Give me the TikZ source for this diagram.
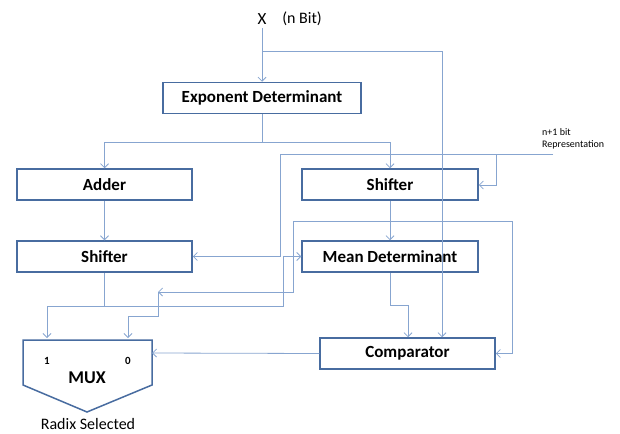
\documentclass[tikz,border=0pt]{standalone}
\usepackage{fontspec}
\setmainfont{Carlito}
\usetikzlibrary{arrows.meta}
\definecolor{boxc}{RGB}{72,108,160}
\definecolor{linec}{RGB}{135,165,208}
\tikzset{
  blk/.style={draw=boxc, line width=1.5pt, fill=white, minimum height=31pt, inner sep=0pt,
    font=\fontsize{17}{20}\selectfont\bfseries},
  conn/.style={draw=linec, line width=0.8pt},
  arr/.style={conn, -{Straight Barb[length=4pt,width=8pt]}},
  lbl/.style={inner sep=0pt}
}
\begin{document}
\begin{tikzpicture}[x=1pt,y=-1pt]
\useasboundingbox (0,0) rectangle (620,433);
% blocks
\node[blk, minimum width=198pt] (expdet) at (262,98) {Exponent Determinant};
\node[blk, minimum width=175pt] (adder) at (104.5,184.5) {Adder};
\node[blk, minimum width=175pt] (shiftL) at (104.5,256.5) {Shifter};
\node[blk, minimum width=176pt] (shiftR) at (390,184.5) {Shifter};
\node[blk, minimum width=176pt] (mean) at (390,256.5) {Mean Determinant};
\node[blk, minimum width=175pt] (comp) at (407.5,353.5) {Comparator};
% MUX
\draw[boxc, line width=1.5pt, fill=white] (23,340) -- (152,340) -- (152,385) -- (87,412) -- (23,385) -- cycle;
\coordinate (mux1) at (47,338);
\coordinate (mux0) at (128,338);
\coordinate (muxr) at (152,353);
\node[lbl, font=\fontsize{11}{13}\selectfont\bfseries] (one) at (47,361) {1};
\node[lbl, font=\fontsize{11}{13}\selectfont\bfseries] (zero) at (128,361) {0};
\node[lbl, font=\fontsize{18}{20}\selectfont\bfseries] (muxt) at (87,378) {MUX};
\node[lbl, font=\fontsize{16}{18}\selectfont] (radix) at (88,424) {Radix Selected};
% labels
\node[lbl, font=\fontsize{17}{19}\selectfont] (xlab) at (262,19) {X};
\node[lbl, font=\fontsize{16}{18}\selectfont] (nbit) at (302,19) {(n Bit)};
\node[lbl, font=\fontsize{10}{12}\selectfont, align=left, anchor=west] (nrep) at (542,139) {n+1 bit\\Representation};
% coordinates
\coordinate (xtop) at (262,28);
\coordinate (xb) at (262,51);
\coordinate (xr) at (442,51);
\coordinate (ed) at (262,142);
\coordinate (edl) at (104.5,142);
\coordinate (edr) at (390,142);
\coordinate (nin) at (553,154);
\coordinate (nj) at (496,154);
\coordinate (nl) at (280,154);
\coordinate (srj) at (390,221);
\coordinate (sl1) at (293,221);
\coordinate (sl2) at (293,292);
\coordinate (bend) at (158,292);
\coordinate (sr1) at (512,221);
\coordinate (slj) at (104.5,306);
\coordinate (mj) at (390,305);
% connectors
\draw[conn] (xtop) -- (xb);
\draw[arr] (xb) -- (expdet.north);
\draw[arr] (xb) -- (xr) -- (comp.north -| xr);
\draw[conn] (expdet.south) -- (ed);
\draw[arr] (ed) -- (edl) -- (adder.north);
\draw[arr] (ed) -- (edr) -- (shiftR.north);
\draw[arr] (adder.south) -- (shiftL.north);
\draw[arr] (nin) -- (nl) -- (nl |- shiftL.east) -- (shiftL.east);
\draw[arr] (nj) -- (nj |- 0,185) -- (shiftR.east |- 0,185);
\draw[arr] (shiftR.south) -- (mean.north);
\draw[arr] (srj) -- (sl1) -- (sl2) -- (bend);
\draw[arr] (bend) -- (158,316) -- (128,316) -- (mux0);
\draw[arr] (srj) -- (sr1) -- (sr1 |- comp.east) -- (comp.east);
\draw[conn] (shiftL.south) -- (slj);
\draw[arr] (slj) -- (47,306) -- (mux1);
\draw[arr] (slj) -- (283,306) -- (283,256.5) -- (mean.west);
\draw[arr] (mean.south) -- (mj) -- (408,305) -- (comp.north -| 408,0);
\draw[arr] (comp.west) -- (muxr);
\end{tikzpicture}
\end{document}
